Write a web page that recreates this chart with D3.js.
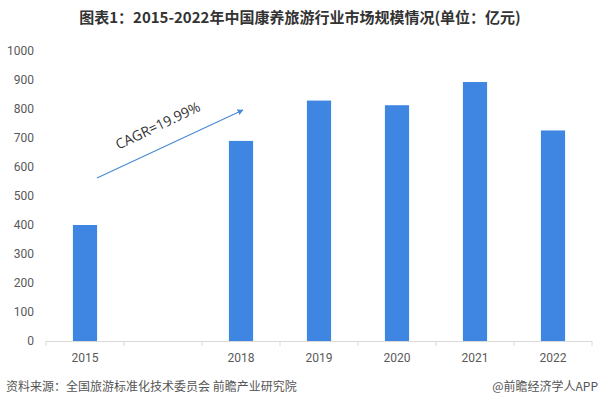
<!DOCTYPE html>
<html>
<head>
<meta charset="utf-8">
<script src="https://cdn.jsdelivr.net/npm/d3@7"></script>
<style>
  body { margin: 0; background: #fff; }
  svg { font-family: "Noto Sans CJK SC", "Noto Sans", sans-serif; }
</style>
</head>
<body>
<div id="chart"></div>
<script>
// chart data
var years = ["2015", "", "2018", "2019", "2020", "2021", "2022"];
var values = [400, null, 690, 829, 813, 893, 726];
var yTicks = [0, 100, 200, 300, 400, 500, 600, 700, 800, 900, 1000];
var cagrText = "CAGR=19.99%";

var width = 600, height = 402;
var margin = { top: 51, right: 8, bottom: 61, left: 46 };
var innerW = width - margin.left - margin.right;
var innerH = height - margin.top - margin.bottom;

var svg = d3.select("#chart").append("svg")
  .attr("width", width)
  .attr("height", height);

// title
svg.append("text")
  .attr("x", 300)
  .attr("y", 23)
  .attr("text-anchor", "middle")
  .style("font-size", "15px")
  .style("font-weight", "bold")
  .style("fill", "#333")
  .text("图表1：2015-2022年中国康养旅游行业市场规模情况(单位：亿元)");

var g = svg.append("g")
  .attr("transform", "translate(" + margin.left + "," + margin.top + ")");

var x = d3.scaleBand()
  .domain(years.map(function (d, i) { return i; }))
  .range([0, innerW])
  .paddingInner(0.69)
  .paddingOuter(0.345);

var xb = d3.scaleBand()
  .domain(years.map(function (d, i) { return i; }))
  .range([0, innerW]);

var y = d3.scaleLinear()
  .domain([0, 1000])
  .range([innerH, 0]);

// y axis labels
var yAxis = d3.axisLeft(y).tickValues(yTicks).tickFormat(d3.format("d")).tickSize(0).tickPadding(12);
var ya = g.append("g").call(yAxis);
ya.select(".domain").remove();
ya.selectAll("text")
  .style("font-size", "12px")
  .style("fill", "#595959")
  .style("font-family", "Roboto, 'Noto Sans', sans-serif");

// bars
g.selectAll(".bar")
  .data(values.map(function (v, i) { return { i: i, v: v }; }).filter(function (d) { return d.v !== null; }))
  .enter().append("rect")
  .attr("class", "bar")
  .attr("x", function (d) { return x(d.i); })
  .attr("width", x.bandwidth())
  .attr("y", function (d) { return y(d.v); })
  .attr("height", function (d) { return innerH - y(d.v); })
  .attr("fill", "#3e86e1");

// x axis line and band ticks
g.append("line")
  .attr("x1", 0).attr("x2", innerW)
  .attr("y1", innerH + 0.5).attr("y2", innerH + 0.5)
  .attr("stroke", "#d9d9d9");

g.selectAll(".xtick")
  .data(years.map(function (d, i) { return i; }).concat([years.length]))
  .enter().append("line")
  .attr("class", "xtick")
  .attr("x1", function (i) { return i * xb.bandwidth(); })
  .attr("x2", function (i) { return i * xb.bandwidth(); })
  .attr("y1", innerH)
  .attr("y2", innerH + 5)
  .attr("stroke", "#d9d9d9");

g.selectAll(".xlabel")
  .data(years)
  .enter().append("text")
  .attr("class", "xlabel")
  .attr("x", function (d, i) { return xb(i) + xb.bandwidth() / 2; })
  .attr("y", innerH + 21)
  .attr("text-anchor", "middle")
  .style("font-size", "12px")
  .style("fill", "#595959")
  .style("font-family", "Roboto, 'Noto Sans', sans-serif")
  .text(function (d) { return d; });

// CAGR arrow
var defs = svg.append("defs");
defs.append("marker")
  .attr("id", "arrow")
  .attr("viewBox", "0 0 10 10")
  .attr("refX", 9).attr("refY", 5)
  .attr("markerWidth", 5).attr("markerHeight", 5)
  .attr("orient", "auto")
  .append("path")
  .attr("d", "M0,0 L10,5 L0,10 z")
  .attr("fill", "#4a8ad6");

svg.append("line")
  .attr("x1", 97).attr("y1", 178)
  .attr("x2", 243).attr("y2", 110)
  .attr("stroke", "#4a8ad6")
  .attr("stroke-width", 1.2)
  .attr("marker-end", "url(#arrow)");

svg.append("text")
  .attr("transform", "translate(160,130) rotate(-25.5)")
  .attr("text-anchor", "middle")
  .style("font-size", "14px")
  .style("fill", "#333")
  .style("font-family", "'Open Sans', 'Noto Sans', sans-serif")
  .text(cagrText);

// footer
svg.append("text")
  .attr("x", 6)
  .attr("y", 391)
  .style("font-size", "12px")
  .style("fill", "#555")
  .text("资料来源：全国旅游标准化技术委员会 前瞻产业研究院");

svg.append("text")
  .attr("x", 598)
  .attr("y", 391)
  .attr("text-anchor", "end")
  .style("font-size", "12px")
  .style("fill", "#555")
  .text("@前瞻经济学人APP");
</script>
</body>
</html>
